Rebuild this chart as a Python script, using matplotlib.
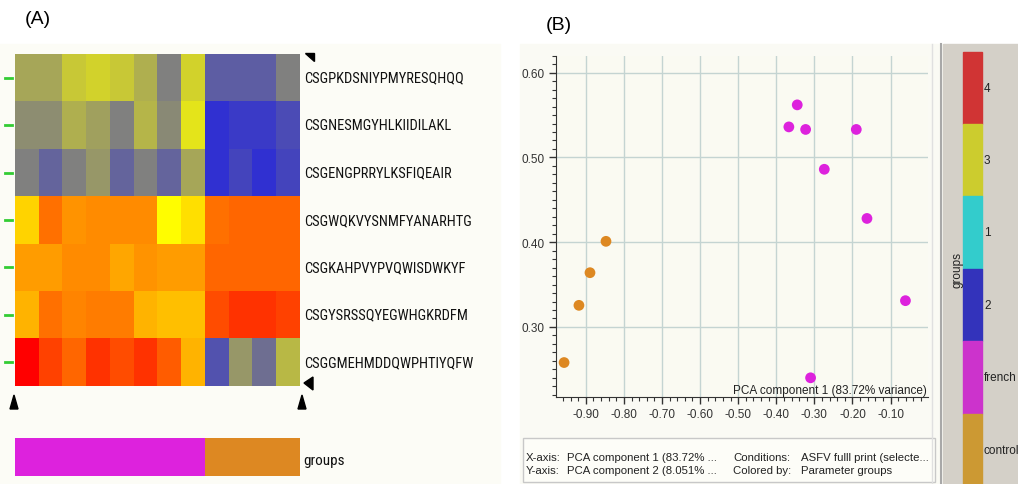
import matplotlib.pyplot as plt
import numpy as np
from matplotlib.colors import LinearSegmentedColormap, ListedColormap
from matplotlib.ticker import MultipleLocator
from matplotlib import font_manager

plt.rcParams['font.family'] = ['Liberation Sans', 'DejaVu Sans']

# heatmap (A): 7 peptides x 12 samples, colour position 0 (blue) .. 1 (red)
peptides = ["CSGPKDSNIYPMYRESQHQQ", "CSGNESMGYHLKIIDILAKL", "CSGENGPRRYLKSFIQEAIR",
            "CSGWQKVYSNMFYANARHTG", "CSGKAHPVYPVQWISDWKYF", "CSGYSRSSQYEGWHGKRDFM",
            "CSGGMEHMDDQWPHTIYQFW"]
heat = [
    [0.33, 0.33, 0.40, 0.42, 0.40, 0.35, 0.25, 0.42, 0.15, 0.15, 0.15, 0.25],
    [0.28, 0.28, 0.35, 0.32, 0.25, 0.36, 0.27, 0.45, 0.02, 0.05, 0.05, 0.10],
    [0.25, 0.17, 0.25, 0.30, 0.17, 0.25, 0.17, 0.33, 0.02, 0.08, 0.02, 0.08],
    [0.57, 0.77, 0.68, 0.70, 0.70, 0.70, 0.50, 0.55, 0.77, 0.80, 0.80, 0.80],
    [0.66, 0.66, 0.70, 0.70, 0.64, 0.68, 0.66, 0.66, 0.80, 0.80, 0.80, 0.80],
    [0.62, 0.77, 0.72, 0.74, 0.74, 0.62, 0.60, 0.60, 0.85, 0.90, 0.90, 0.87],
    [1.00, 0.87, 0.80, 0.90, 0.85, 0.90, 0.82, 0.62, 0.12, 0.30, 0.20, 0.37],
]
sample_groups = ["french"] * 8 + ["control"] * 4

# PCA scores (B)
pc1_french = [-0.345, -0.367, -0.323, -0.190, -0.274, -0.162, -0.061, -0.310]
pc2_french = [0.562, 0.536, 0.533, 0.533, 0.486, 0.428, 0.331, 0.240]
pc1_control = [-0.847, -0.889, -0.918, -0.957]
pc2_control = [0.401, 0.364, 0.3255, 0.258]

legend_groups = ["4", "3", "1", "2", "french", "control"]
legend_colors = ["#d03434", "#cccc2e", "#33cccc", "#3333bb", "#cc33cc", "#cc9933"]

heat_cmap = LinearSegmentedColormap.from_list("hm", [
    (0.0, "#2a2ad8"), (0.25, "#808080"), (0.40, "#c8c836"), (0.50, "#ffff00"),
    (0.65, "#ffa000"), (0.80, "#ff6600"), (1.0, "#ff0000")])

# narrow font for the peptide labels if one is around
installed = {f.name for f in font_manager.fontManager.ttflist}
narrow = next((f for f in ["Liberation Sans Narrow", "Arial Narrow", "Roboto Condensed",
                           "Open Sans Condensed", "Noto Sans Display"] if f in installed),
              "Liberation Sans")

W, H = 1018, 485
fig = plt.figure(figsize=(W / 100, H / 100), dpi=100)
bg = fig.add_axes([0, 0, 1, 1])
bg.set_xlim(0, W)
bg.set_ylim(H, 0)
bg.axis("off")

# ---- panel A ----
bg.add_patch(plt.Rectangle((0, 45), 500, 440, color="#fcfcf6", zorder=0))
bg.imshow(np.array(heat), cmap=heat_cmap, vmin=0, vmax=1, aspect="auto",
          interpolation="nearest", extent=(15, 300, 387, 55), zorder=1)
row_h = (387 - 55) / len(peptides)
labels = []
for i, p in enumerate(peptides):
    yc = 55 + row_h * (i + 0.5)
    labels.append(bg.text(304, yc, p, fontsize=11, va="center", ha="left",
                          family=narrow, color="#111111"))
    bg.plot([5, 12], [yc, yc], color="#33cc33", lw=2, zorder=2)

grp_colors = {"french": "#dd22dd", "control": "#dd8822"}
grp_idx = [list(grp_colors).index(g) for g in sample_groups]
bg.imshow(np.array([grp_idx]), cmap=ListedColormap(list(grp_colors.values())),
          vmin=0, vmax=1, aspect="auto", interpolation="nearest",
          extent=(15, 300, 477, 439), zorder=1)
glab = bg.text(303, 461, "groups", fontsize=11, va="center", ha="left",
               family=narrow, color="#111111")

# fit the label size so the widest peptide spans ~168 px like the reference
renderer = fig.canvas.get_renderer()
widest = max(t.get_window_extent(renderer).width for t in labels)
fs_lab = min(11.5, 11 * 168 / widest)
for t in labels:
    t.set_fontsize(fs_lab)
glab.set_fontsize(fs_lab + 0.5)

# little marker triangles
for tri in ([(305, 54), (314, 54), (314, 62)], [(304, 384), (313, 378), (313, 391)],
            [(10, 410), (18, 410), (14, 396)], [(298, 410), (306, 410), (302, 396)]):
    bg.add_patch(plt.Polygon(tri, color="black", zorder=3))

bg.text(38, 20, "(A)", fontsize=14, ha="center", va="center")
bg.text(559, 26, "(B)", fontsize=14, ha="center", va="center")

# ---- panel B ----
bg.add_patch(plt.Rectangle((520, 45), 422, 440, color="#fafaf4", zorder=0))
bg.add_patch(plt.Rectangle((523, 439), 412, 44, facecolor="#fdfdf8",
                           edgecolor="#c8c8c8", lw=1, zorder=1))
bg.plot([932, 932], [45, H], color="#e0e0e0", lw=1)
bg.plot([941, 941], [45, H], color="#a8a8a8", lw=1.5)
bg.add_patch(plt.Rectangle((943, 45), W - 943, H - 45, color="#d4d0c8", zorder=0))

# legend colour bar
seg_top, seg_h = 52.5, 72.4
for i, (g, c) in enumerate(zip(legend_groups, legend_colors)):
    y0 = seg_top + seg_h * i
    bg.add_patch(plt.Rectangle((963, y0), 19, seg_h, color=c, zorder=1))
    bg.text(984, y0 + seg_h / 2, g, fontsize=8.5, va="center", ha="left", color="#222222")
bg.text(958, 270, "groups", fontsize=8.5, rotation=90, va="center", ha="center", color="#222222")

# info box text
fs = 8.2
for x, y, s in [(526, 458, "X-axis:"), (567, 458, "PCA component 1 (83.72% ..."),
                (733, 458, "Conditions:"), (801, 458, "ASFV fulll print (selecte..."),
                (526, 471, "Y-axis:"), (567, 471, "PCA component 2 (8.051% ..."),
                (733, 471, "Colored by:"), (801, 471, "Parameter groups")]:
    bg.text(x, y, s, fontsize=fs, va="center", color="#222222")

ax_l, ax_r, ax_t, ax_b = 555.7, 928.3, 56.7, 398.3
ax = fig.add_axes([ax_l / W, 1 - ax_b / H, (ax_r - ax_l) / W, (ax_b - ax_t) / H])
ax.set_facecolor("#fafaf2")
ax.set_xlim(-0.979, -0.001)
ax.set_ylim(0.217, 0.620)
ax.xaxis.set_minor_locator(MultipleLocator(0.02))
ax.yaxis.set_minor_locator(MultipleLocator(0.01))
xt = np.arange(-0.9, -0.05, 0.1)
ax.set_xticks(xt)
ax.set_xticklabels([f"{v:.2f}" for v in xt])
ax.set_yticks([0.3, 0.4, 0.5, 0.6])
ax.set_yticklabels(["0.30", "0.40", "0.50", "0.60"])
ax.grid(True, which="major", color="#c4d4d2", lw=1)
ax.set_axisbelow(True)
for s in ("top", "right"):
    ax.spines[s].set_visible(False)
for s in ("left", "bottom"):
    ax.spines[s].set_color("#333333")
ax.tick_params(which="major", length=5, width=1, color="#333333", labelsize=8.5,
               labelcolor="#333333", pad=3)
ax.tick_params(which="minor", length=3, width=0.8, color="#333333")
ax.scatter(pc1_french, pc2_french, s=60, color="#dd22dd", edgecolors="none", zorder=3)
ax.scatter(pc1_control, pc2_control, s=60, color="#dd8822", edgecolors="none", zorder=3)
ax.text(0.995, 0.005, "PCA component 1 (83.72% variance)", transform=ax.transAxes,
        ha="right", va="bottom", fontsize=8.5, color="#222222")

fig.savefig("out.png", dpi=100)
